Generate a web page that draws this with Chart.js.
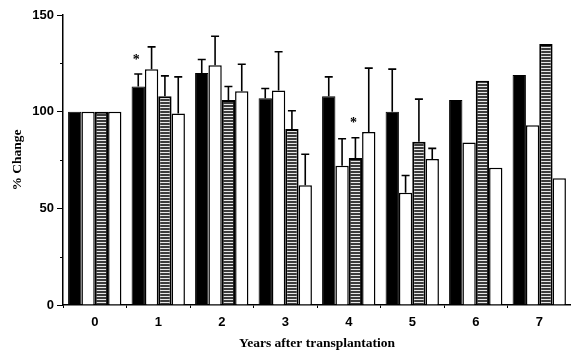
<!DOCTYPE html>
<html>
<head>
<meta charset="utf-8">
<script src="https://cdn.jsdelivr.net/npm/chart.js@4/dist/chart.umd.min.js"></script>
<style>
  html, body { margin: 0; padding: 0; background: #fff; }
  #wrap { width: 571px; height: 355px; }
</style>
</head>
<body>
<div id="wrap"><canvas id="chart"></canvas></div>
<script>
// ── Data ────────────────────────────────────────────────────
const years = ['0', '1', '2', '3', '4', '5', '6', '7'];

const solidVals   = [100, 113, 120, 107, 108, 100, 106, 119];
const openVals    = [100, 122, 124, 111, 72, 58, 84, 93];
const stripedVals = [100, 108, 106, 91, 76, 84.5, 116, 135];
const open2Vals   = [100, 99, 110.5, 62, 89.5, 75.5, 71, 65.5];

// upper end of the error bar (null = none drawn)
const solidErr    = [null, 119.5, 127, 112, 118, 122, null, null];
const openErr     = [null, 133.5, 139, 131, 86, 67, null, null];
const stripedErr  = [null, 118.5, 113, 100.5, 86.5, 106.5, null, null];
const open2Err    = [null, 118, 124.5, 78, 122.5, 81, null, null];

// significance marks: [year index, series index]
const starMarks = [[1, 0], [4, 2]];

const yTicks = [0, 50, 100, 150];
const yMinor = [25, 75, 125];

// ── Striped fill ────────────────────────────────────────────
function stripePattern() {
    const c = document.createElement('canvas');
    c.width = 4; c.height = 3;
    const g = c.getContext('2d');
    g.fillStyle = '#e8e8e8';
    g.fillRect(0, 0, 4, 3);
    g.fillStyle = '#3c3c3c';
    g.fillRect(0, 0, 4, 2);
    return g.createPattern(c, 'repeat');
}

// ── Error bars, stars and minor ticks ───────────────────────
const errorBars = {
    id: 'errorBars',
    afterDatasetsDraw(chart) {
        const { ctx } = chart;
        const yScale = chart.scales.y;
        const errs = [solidErr, openErr, stripedErr, open2Err];
        ctx.save();
        ctx.strokeStyle = '#000';
        ctx.lineWidth = 1.6;
        errs.forEach((arr, di) => {
            const meta = chart.getDatasetMeta(di);
            arr.forEach((v, j) => {
                if (v == null) return;
                const bar = meta.data[j];
                const top = yScale.getPixelForValue(v);
                ctx.beginPath();
                ctx.moveTo(bar.x, bar.y);
                ctx.lineTo(bar.x, top);
                ctx.moveTo(bar.x - 4, top);
                ctx.lineTo(bar.x + 4, top);
                ctx.stroke();
            });
        });
        ctx.fillStyle = '#000';
        ctx.font = "bold 14px 'Liberation Serif'";
        ctx.textAlign = 'center';
        ctx.textBaseline = 'middle';
        starMarks.forEach(([j, di]) => {
            const bar = chart.getDatasetMeta(di).data[j];
            const v = errs[di][j];
            ctx.fillText('*', bar.x - 2, yScale.getPixelForValue(v) - 14);
        });
        // minor ticks on the value axis
        const x0 = yScale.right;
        ctx.lineWidth = 1;
        yMinor.forEach(v => {
            const py = Math.round(yScale.getPixelForValue(v)) + 0.5;
            ctx.beginPath();
            ctx.moveTo(x0 - 3, py);
            ctx.lineTo(x0, py);
            ctx.stroke();
        });
        ctx.restore();
    }
};

const sansBold = { family: "'Liberation Sans', Arial, sans-serif", weight: 'bold', size: 13 };
const serifBold = { family: "'Liberation Serif', 'Times New Roman', serif", weight: 'bold', size: 13.5 };

const barBase = {
    borderColor: '#000',
    borderSkipped: 'bottom',
    categoryPercentage: 0.84,
    barPercentage: 1.0
};

new Chart(document.getElementById('chart'), {
    type: 'bar',
    data: {
        labels: years,
        datasets: [
            { ...barBase, label: 'A', data: solidVals,   backgroundColor: '#000', borderWidth: 1 },
            { ...barBase, label: 'B', data: openVals,    backgroundColor: '#fff', borderWidth: 1.5 },
            { ...barBase, label: 'C', data: stripedVals, backgroundColor: stripePattern(), borderWidth: 2 },
            { ...barBase, label: 'D', data: open2Vals,   backgroundColor: '#fff', borderWidth: 1.5 }
        ]
    },
    options: {
        responsive: true,
        maintainAspectRatio: false,
        animation: false,
        layout: { padding: { top: 15, right: 0, bottom: 0, left: 0 } },
        plugins: {
            legend: { display: false },
            tooltip: { enabled: false }
        },
        scales: {
            x: {
                offset: true,
                border: { color: '#000', width: 1.5 },
                grid: {
                    offset: true,
                    drawOnChartArea: false,
                    tickLength: 3,
                    tickColor: '#000'
                },
                ticks: { color: '#000', font: sansBold, padding: 7 },
                title: {
                    display: true,
                    text: 'Years after transplantation',
                    color: '#000',
                    font: serifBold,
                    padding: { top: 0, bottom: 3 }
                },
                afterFit: s => { s.height = 50; }
            },
            y: {
                min: 0,
                max: 150,
                border: { color: '#000', width: 1.5 },
                grid: {
                    drawOnChartArea: false,
                    tickLength: 6,
                    tickColor: '#000'
                },
                afterBuildTicks: s => { s.ticks = yTicks.map(v => ({ value: v })); },
                ticks: { color: '#000', font: sansBold, padding: 3 },
                title: {
                    display: true,
                    text: '% Change',
                    color: '#000',
                    font: serifBold,
                    padding: { top: 9, bottom: 0 }
                },
                afterFit: s => { s.width = 63; }
            }
        }
    },
    plugins: [errorBars]
});
</script>
</body>
</html>
